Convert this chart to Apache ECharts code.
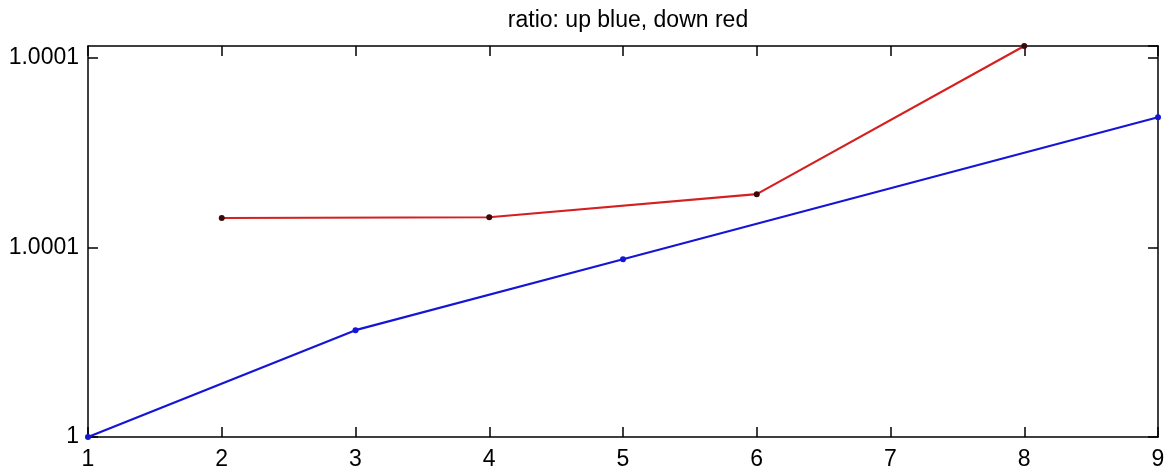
<!DOCTYPE html>
<html>
<head>
<meta charset="utf-8">
<script src="https://cdn.jsdelivr.net/npm/echarts@6/dist/echarts.min.js"></script>
<style>
  html, body { margin: 0; padding: 0; background: #fff; }
  #chart { width: 1171px; height: 473px; }
</style>
</head>
<body>
<div id="chart"></div>
<script>
// ratio of consecutive steps: up moves (blue) and down moves (red)
const upX = [1, 3, 5, 9];
const upRatio = [1.0, 1.0000282, 1.0000469, 1.0000844];
const downX = [2, 4, 6, 8];
const downRatio = [1.0000578, 1.0000580, 1.0000641, 1.0001032];
const yTickLabels = ['1', '1.0001', '1.0001'];
const xTickLabels = ['1', '2', '3', '4', '5', '6', '7', '8', '9'];

const Y_MIN = 1.0, Y_STEP = 0.00005, Y_MAX = 1.0001032;
const FONT = 'Liberation Sans, Arial, Helvetica, sans-serif';

const pairs = (xs, ys) => xs.map((x, i) => [x, ys[i]]);

const axisLine = { show: true, lineStyle: { color: '#000', width: 1.5 } };
const tickStyle = { show: true, inside: true, length: 10, lineStyle: { color: '#000', width: 1.5 } };

const chart = echarts.init(document.getElementById('chart'), null, { renderer: 'canvas' });
chart.setOption({
  animation: false,
  backgroundColor: '#fff',
  title: {
    text: 'ratio: up blue, down red',
    left: 623, top: 4, textAlign: 'center',
    textStyle: { fontFamily: FONT, fontSize: 23, fontWeight: 'normal', color: '#000' }
  },
  grid: { left: 88, right: 13, top: 46, bottom: 36, containLabel: false },
  xAxis: [
    {
      type: 'value', min: 1, max: 9, interval: 1, position: 'bottom',
      axisLine, axisTick: tickStyle, splitLine: { show: false },
      axisLabel: {
        margin: 11, color: '#000', fontFamily: FONT, fontSize: 23,
        formatter: v => xTickLabels[Math.round(v) - 1]
      }
    },
    {
      type: 'value', min: 1, max: 9, interval: 1, position: 'top',
      axisLine, axisTick: tickStyle, splitLine: { show: false },
      axisLabel: { show: false }
    }
  ],
  yAxis: [
    {
      type: 'value', min: Y_MIN, max: Y_MAX, interval: Y_STEP, position: 'left',
      axisLine, axisTick: tickStyle, splitLine: { show: false },
      axisLabel: {
        margin: 9, color: '#000', fontFamily: FONT, fontSize: 23,
        showMaxLabel: false,
        formatter: v => {
          const i = Math.round((v - Y_MIN) / Y_STEP);
          return yTickLabels[i] !== undefined ? yTickLabels[i] : '';
        }
      }
    },
    {
      type: 'value', min: Y_MIN, max: Y_MAX, interval: Y_STEP, position: 'right',
      axisLine, axisTick: tickStyle, splitLine: { show: false },
      axisLabel: { show: false }
    }
  ],
  series: [
    {
      name: 'up', type: 'line', data: pairs(upX, upRatio),
      symbol: 'circle', symbolSize: 6,
      lineStyle: { color: '#1515d6', width: 2.2 },
      itemStyle: { color: '#1515d6' }
    },
    {
      name: 'down', type: 'line', data: pairs(downX, downRatio),
      symbol: 'circle', symbolSize: 6,
      lineStyle: { color: '#d42020', width: 2.2 },
      itemStyle: { color: '#3a0a0a' }
    }
  ]
});
</script>
</body>
</html>
